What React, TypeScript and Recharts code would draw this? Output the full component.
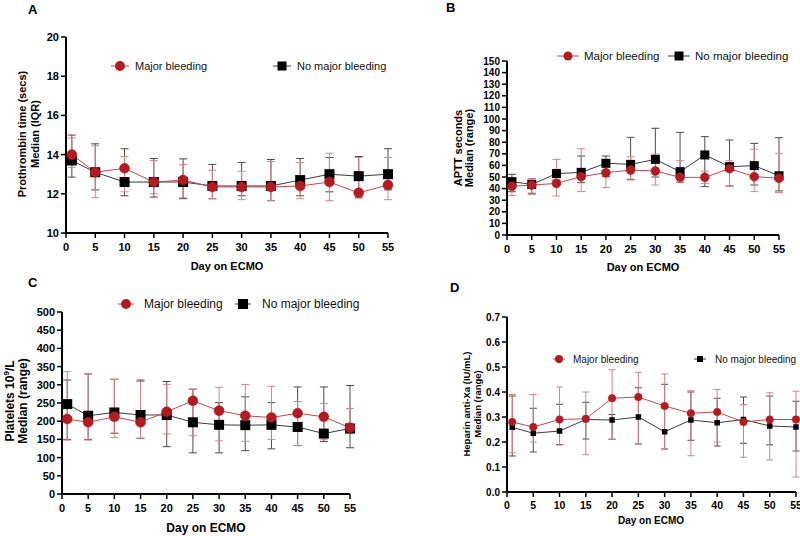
import React from "react";
import { LineChart, Line, XAxis, YAxis, ErrorBar, Legend, Label } from "recharts";

// days on ECMO where samples were taken
const days = [1, 5, 10, 15, 20, 25, 30, 35, 40, 45, 50, 55];
const dayTicks = [0, 5, 10, 15, 20, 25, 30, 35, 40, 45, 50, 55];

// A: prothrombin time (secs), median + IQR
const ptMajor = [14.0, 13.1, 13.3, 12.6, 12.7, 12.35, 12.35, 12.35, 12.4, 12.6, 12.05, 12.45];
const ptMajorLow = [13.35, 11.8, 12.1, 12.0, 11.8, 11.75, 11.7, 11.65, 11.75, 11.65, 11.8, 11.7];
const ptMajorHigh = [14.85, 14.45, 13.9, 13.7, 13.5, 13.2, 13.15, 13.65, 13.6, 14.07, 13.85, 13.85];
const ptNone = [13.7, 13.1, 12.6, 12.6, 12.6, 12.4, 12.4, 12.4, 12.7, 13.0, 12.9, 13.0];
const ptNoneLow = [12.85, 12.2, 11.9, 11.83, 11.75, 11.75, 11.9, 11.65, 11.9, 12.1, 11.8, 12.2];
const ptNoneHigh = [15.0, 14.55, 14.3, 13.8, 13.78, 13.5, 13.6, 13.75, 13.8, 13.85, 13.9, 14.3];
const ptTicks = [10, 12, 14, 16, 18, 20];

// B: APTT seconds, median + range
const apttMajor = [42, 43, 44.5, 50.3, 53.7, 56, 55.2, 49.7, 49.7, 57.2, 50.3, 48.9];
const apttMajorLow = [34, 35, 33.6, 37.4, 41, 47.4, 43.1, 45.4, 44.5, 42.2, 37.4, 36.5];
const apttMajorHigh = [48, 48.5, 65.2, 74.4, 58.9, 67.5, 69.8, 64, 55, 64, 73.9, 70.4];
const apttNone = [46, 43.6, 52.9, 54, 61.8, 60.9, 65.2, 54.6, 69, 58.9, 59.8, 51.1];
const apttNoneLow = [37.3, 36, 47.4, 45.1, 50.3, 48, 50, 45.4, 41.7, 42.2, 43.1, 38];
const apttNoneHigh = [52.3, 48.5, 56.6, 68.1, 68.1, 84.2, 92, 88.5, 84.8, 81.9, 79, 83.9];
const apttTicks = [0, 10, 20, 30, 40, 50, 60, 70, 80, 90, 100, 110, 120, 130, 140, 150];

// C: platelets 10^9/L, median + range
const pltMajor = [206, 197, 212, 197, 226, 256, 229, 215, 210, 222, 212, 182];
const pltMajorLow = [148, 148, 155, 153, 165, 160, 146, 145, 150, 133, 149, 167];
const pltMajorHigh = [336, 330, 315, 309, 301, 288, 293, 301, 296, 254, 249, 235];
const pltNone = [247, 215, 224, 217, 217, 197, 190, 189, 190, 184, 166, 180];
const pltNoneLow = [150, 150, 167, 153, 130, 113, 113, 119, 124, 133, 144, 127];
const pltNoneHigh = [313, 330, 315, 313, 309, 288, 251, 267, 251, 294, 294, 298];
const pltTicks = [0, 50, 100, 150, 200, 250, 300, 350, 400, 450, 500];

// D: heparin anti-Xa (IU/mL), median + range
const xaMajor = [0.28, 0.26, 0.29, 0.293, 0.375, 0.38, 0.344, 0.315, 0.32, 0.28, 0.29, 0.29];
const xaMajorLow = [0.157, 0.2, 0.188, 0.149, 0.211, 0.192, 0.172, 0.145, 0.2, 0.139, 0.128, 0.06];
const xaMajorHigh = [0.39, 0.39, 0.42, 0.4, 0.489, 0.479, 0.472, 0.405, 0.41, 0.35, 0.397, 0.403];
const xaNone = [0.259, 0.235, 0.244, 0.29, 0.288, 0.3, 0.241, 0.288, 0.277, 0.29, 0.264, 0.26];
const xaNoneLow = [0.144, 0.16, 0.19, 0.212, 0.211, 0.192, 0.172, 0.207, 0.184, 0.195, 0.189, 0.164];
const xaNoneHigh = [0.384, 0.335, 0.351, 0.359, 0.31, 0.417, 0.431, 0.4, 0.375, 0.38, 0.384, 0.363];
const xaTicks = [0, 0.1, 0.2, 0.3, 0.4, 0.5, 0.6, 0.7];

const FONT = "Arial, 'Liberation Sans', sans-serif";
const RED = "#b01c22";
const RED_LINE = "#c4474c";
const RED_ERR = "#d98286";
const BLACK = "#000000";
const BLACK_LINE = "#3a3a3a";
const BLACK_ERR = "#4a4a4a";

const makeRows = (
  maj: number[], majLo: number[], majHi: number[],
  no: number[], noLo: number[], noHi: number[]
) =>
  days.map((day, i) => ({
    day,
    major: maj[i],
    majorErr: [maj[i] - majLo[i], majHi[i] - maj[i]],
    none: no[i],
    noneErr: [no[i] - noLo[i], noHi[i] - no[i]],
  }));

const squareDot = (size: number) => (props: any) => {
  const { cx, cy, index } = props;
  return (
    <rect
      key={`sq-${index}`}
      x={cx - size / 2}
      y={cy - size / 2}
      width={size}
      height={size}
      fill={BLACK}
    />
  );
};

type LegendCfg = {
  y: number;
  redX: number;
  redText: number;
  blackX: number;
  blackText: number;
  font: number;
  r: number;
  sq: number;
  seg: number;
};

const legendContent = (cfg: LegendCfg, width: number) => () => (
  <svg width={width} height={24} style={{ display: "block", overflow: "visible" }}>
    <line x1={cfg.redX - cfg.seg} x2={cfg.redX + cfg.seg} y1={12} y2={12} stroke={RED_LINE} />
    <circle cx={cfg.redX} cy={12} r={cfg.r} fill={RED} />
    <text x={cfg.redText} y={12} dy="0.35em" fontSize={cfg.font} fontFamily={FONT} fill="#111">
      Major bleeding
    </text>
    <line x1={cfg.blackX - cfg.seg} x2={cfg.blackX + cfg.seg} y1={12} y2={12} stroke={BLACK_LINE} />
    <rect x={cfg.blackX - cfg.sq / 2} y={12 - cfg.sq / 2} width={cfg.sq} height={cfg.sq} fill={BLACK} />
    <text x={cfg.blackText} y={12} dy="0.35em" fontSize={cfg.font} fontFamily={FONT} fill="#111">
      No major bleeding
    </text>
  </svg>
);

type PanelProps = {
  letter: string;
  letterX: number;
  letterY: number;
  left: number;
  top: number;
  width: number;
  height: number;
  margin: { top: number; right: number; bottom: number; left: number };
  yWidth: number;
  xHeight: number;
  yDomain: [number, number];
  yTicks: number[];
  yFmt?: (v: number) => string;
  yTickFont: number;
  xTickFont: number;
  yLines: { content: React.ReactNode; x: number }[];
  yCenter: number;
  yFont: number;
  xLabelX: number;
  xLabelY: number;
  xFont: number;
  legend: LegendCfg;
  dotR: number;
  sq: number;
  cap: number;
  rows: ReturnType<typeof makeRows>;
};

function Panel(p: PanelProps) {
  const tickStyle = (size: number) => ({
    fill: "#000",
    fontSize: size,
    fontWeight: 700,
    fontFamily: FONT,
  });
  return (
    <div style={{ position: "absolute", left: p.left, top: p.top, width: p.width, height: p.height }}>
      <div
        style={{
          position: "absolute",
          left: p.letterX,
          top: p.letterY,
          fontFamily: FONT,
          fontWeight: 700,
          fontSize: 13,
          color: "#000",
          lineHeight: 1,
        }}
      >
        {p.letter}
      </div>
      <LineChart width={p.width} height={p.height} data={p.rows} margin={p.margin}>
        <XAxis
          dataKey="day"
          type="number"
          domain={[0, 55]}
          ticks={dayTicks}
          interval={0}
          height={p.xHeight}
          axisLine={{ stroke: "#000", strokeWidth: 2 }}
          tickLine={{ stroke: "#000", strokeWidth: 1.5 }}
          tickSize={5}
          tickMargin={5}
          tick={tickStyle(p.xTickFont)}
        >
          <Label
            content={() => (
              <text
                x={p.xLabelX}
                y={p.xLabelY}
                dy="0.35em"
                textAnchor="middle"
                fontSize={p.xFont}
                fontWeight={700}
                fontFamily={FONT}
                fill="#000"
              >
                Day on ECMO
              </text>
            )}
          />
        </XAxis>
        <YAxis
          type="number"
          domain={p.yDomain}
          ticks={p.yTicks}
          interval={0}
          width={p.yWidth}
          allowDataOverflow
          tickFormatter={p.yFmt}
          axisLine={{ stroke: "#000", strokeWidth: 2 }}
          tickLine={{ stroke: "#000", strokeWidth: 1.5 }}
          tickSize={5}
          tick={tickStyle(p.yTickFont)}
        >
          <Label
            content={() => (
              <g>
                {p.yLines.map((l, i) => (
                  <text
                    key={i}
                    x={l.x}
                    y={p.yCenter}
                    transform={`rotate(-90 ${l.x} ${p.yCenter})`}
                    textAnchor="middle"
                    fontSize={p.yFont}
                    fontWeight={700}
                    fontFamily={FONT}
                    fill="#000"
                  >
                    {l.content}
                  </text>
                ))}
              </g>
            )}
          />
        </YAxis>
        <Legend
          layout="horizontal"
          verticalAlign="middle"
          align="center"
          content={legendContent(p.legend, p.width)}
          wrapperStyle={{ position: "absolute", left: 0, top: p.legend.y - 12, width: p.width, height: 24 }}
        />
        <Line
          dataKey="none"
          stroke={BLACK_LINE}
          strokeWidth={1}
          dot={squareDot(p.sq)}
          activeDot={false}
          isAnimationActive={false}
        >
          <ErrorBar dataKey="noneErr" direction="y" width={p.cap} stroke={BLACK_ERR} strokeWidth={1} />
        </Line>
        <Line
          dataKey="major"
          stroke={RED_LINE}
          strokeWidth={1}
          dot={{ r: p.dotR, fill: RED, stroke: RED, strokeWidth: 0.5 }}
          activeDot={false}
          isAnimationActive={false}
        >
          <ErrorBar dataKey="majorErr" direction="y" width={p.cap} stroke={RED_ERR} strokeWidth={1} />
        </Line>
      </LineChart>
    </div>
  );
}

export default function App() {
  return (
    <div style={{ position: "absolute", left: 0, top: 0, width: 800, height: 536, background: "#fff" }}>
      <Panel
        letter="A"
        letterX={28}
        letterY={3}
        left={0}
        top={0}
        width={400}
        height={272}
        margin={{ top: 37, right: 12, bottom: 0, left: 0 }}
        yWidth={66}
        xHeight={39}
        yDomain={[10, 20]}
        yTicks={ptTicks}
        yTickFont={11}
        xTickFont={11}
        yLines={[
          { content: "Prothrombin time (secs)", x: 26 },
          { content: "Median (IQR)", x: 39 },
        ]}
        yCenter={134}
        yFont={11}
        xLabelX={227}
        xLabelY={266}
        xFont={11}
        legend={{ y: 66, redX: 120, redText: 135, blackX: 282, blackText: 297, font: 11, r: 5, sq: 9, seg: 9 }}
        dotR={5}
        sq={10}
        cap={4}
        rows={makeRows(ptMajor, ptMajorLow, ptMajorHigh, ptNone, ptNoneLow, ptNoneHigh)}
      />
      <Panel
        letter="B"
        letterX={46}
        letterY={1}
        left={400}
        top={0}
        width={400}
        height={272}
        margin={{ top: 61, right: 21, bottom: 0, left: 0 }}
        yWidth={107}
        xHeight={37}
        yDomain={[0, 150]}
        yTicks={apttTicks}
        yTickFont={10}
        xTickFont={11}
        yLines={[
          { content: "APTT seconds", x: 62 },
          { content: "Median (range)", x: 73 },
        ]}
        yCenter={148}
        yFont={11}
        xLabelX={243}
        xLabelY={267}
        xFont={11}
        legend={{ y: 56, redX: 168, redText: 184, blackX: 279, blackText: 295, font: 11.5, r: 4.5, sq: 9, seg: 11 }}
        dotR={4.5}
        sq={9}
        cap={4}
        rows={makeRows(apttMajor, apttMajorLow, apttMajorHigh, apttNone, apttNoneLow, apttNoneHigh)}
      />
      <Panel
        letter="C"
        letterX={28}
        letterY={4}
        left={0}
        top={272}
        width={400}
        height={264}
        margin={{ top: 40, right: 50, bottom: 0, left: 0 }}
        yWidth={62}
        xHeight={42}
        yDomain={[0, 500]}
        yTicks={pltTicks}
        yTickFont={11}
        xTickFont={11}
        yLines={[
          {
            content: (
              <>
                Platelets 10
                <tspan dy={-5} fontSize={8}>9</tspan>
                <tspan dy={5}>/L</tspan>
              </>
            ),
            x: 14,
          },
          { content: "Median (range)", x: 27 },
        ]}
        yCenter={129}
        yFont={12}
        xLabelX={206}
        xLabelY={256}
        xFont={12}
        legend={{ y: 32, redX: 126, redText: 144, blackX: 243, blackText: 262, font: 12, r: 5, sq: 10, seg: 8 }}
        dotR={5}
        sq={10}
        cap={4}
        rows={makeRows(pltMajor, pltMajorLow, pltMajorHigh, pltNone, pltNoneLow, pltNoneHigh)}
      />
      <Panel
        letter="D"
        letterX={50}
        letterY={9}
        left={400}
        top={272}
        width={400}
        height={264}
        margin={{ top: 45, right: 4, bottom: 0, left: 0 }}
        yWidth={107}
        xHeight={44}
        yDomain={[0, 0.7]}
        yTicks={xaTicks}
        yFmt={(v: number) => v.toFixed(1)}
        yTickFont={10}
        xTickFont={10.5}
        yLines={[
          { content: "Heparin anti-Xa (IU/mL)", x: 70 },
          { content: "Median (range)", x: 81 },
        ]}
        yCenter={132}
        yFont={9.5}
        xLabelX={251}
        xLabelY={248}
        xFont={10}
        legend={{ y: 87, redX: 159, redText: 173, blackX: 300, blackText: 315, font: 10, r: 4, sq: 6, seg: 6 }}
        dotR={3.8}
        sq={5.5}
        cap={3.5}
        rows={makeRows(xaMajor, xaMajorLow, xaMajorHigh, xaNone, xaNoneLow, xaNoneHigh)}
      />
    </div>
  );
}
